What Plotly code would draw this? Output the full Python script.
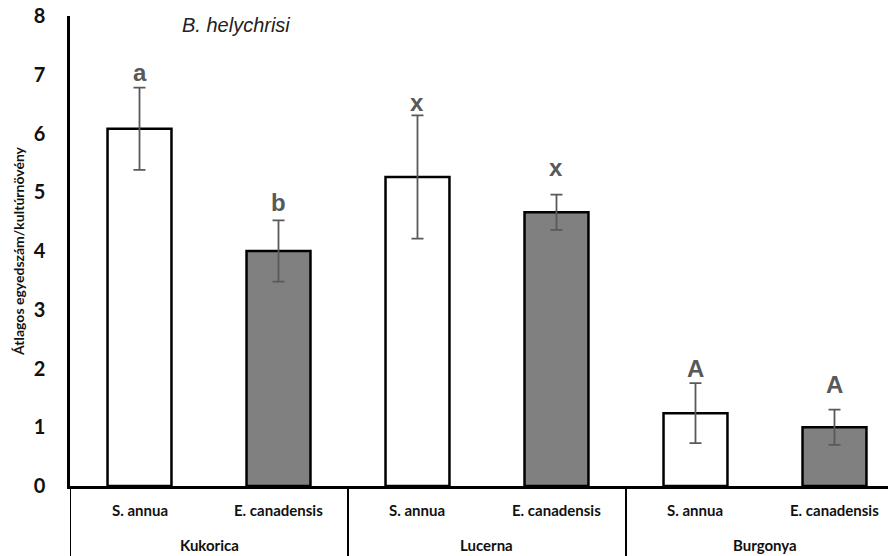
import plotly.graph_objects as go

groups = ["Kukorica", "Lucerna", "Burgonya"]
species = ["S. annua", "E. canadensis"]
means = [6.08, 4.00, 5.26, 4.66, 1.24, 1.00]
errs = [0.70, 0.52, 1.05, 0.30, 0.51, 0.30]
letters = ["a", "b", "x", "x", "A", "A"]
letter_y = [7.01, 4.80, 6.49, 5.38, 1.97, 1.70]
fills = ["#ffffff", "#808080"] * 3

n_sp = len(species)
xpos = list(range(len(means)))
sp_labels = [species[i % n_sp] for i in xpos]

fig = go.Figure()
fig.add_trace(go.Bar(
    x=xpos, y=means,
    marker=dict(color=fills, line=dict(color="#000000", width=2.5)),
    width=0.46,
    error_y=dict(type="data", array=errs, visible=True, color="#595959",
                 thickness=1.8, width=6),
    showlegend=False,
))

label_font = dict(family="Lato, Open Sans", size=15, color="#111", weight="bold")

for i, (ly, lt) in enumerate(zip(letter_y, letters)):
    fig.add_annotation(x=i, y=ly, text=f"<b>{lt}</b>",
                       showarrow=False, yanchor="middle", yshift=2,
                       font=dict(family="Liberation Sans, Arial", size=24, color="#595959"),
                       xref="x", yref="y")

for i, s in zip(xpos, sp_labels):
    fig.add_annotation(x=i, y=0, xref="x", yref="paper", text=s, showarrow=False,
                       yanchor="middle", yshift=-24, font=label_font)

for gi, g in enumerate(groups):
    fig.add_annotation(x=gi * n_sp + (n_sp - 1) / 2, y=0, xref="x", yref="paper", text=g,
                       showarrow=False, yanchor="middle", yshift=-59, font=label_font)
    fig.add_shape(type="line", xref="x", yref="paper", x0=gi * n_sp - 0.5, x1=gi * n_sp - 0.5,
                  y0=0, y1=-75 / 470, line=dict(color="#000000", width=2))

fig.add_annotation(text="<i>B. helychrisi</i>", xref="paper", yref="paper",
                   x=(180 - 70) / 818, y=1 - 9 / 470, xanchor="left", yanchor="middle",
                   showarrow=False,
                   font=dict(family="Liberation Sans, Arial", size=20, color="#222"))

fig.update_layout(
    width=888, height=556,
    margin=dict(l=70, r=0, t=16, b=70),
    plot_bgcolor="white", paper_bgcolor="white",
    xaxis=dict(range=[-0.5, 5.385], showline=True, linecolor="#000000", linewidth=2.5,
               showgrid=False, ticks="", showticklabels=False, zeroline=False),
    yaxis=dict(range=[0, 8], dtick=1, showline=True, linecolor="#000000", linewidth=2.5,
               showgrid=False, ticks="", zeroline=False,
               tickfont=dict(family="Lato, Open Sans", size=20, color="#111", weight="bold"),
               ticklabelstandoff=18,
               title=dict(text="Átlagos egyedszám/kultúrnövény", standoff=6,
                          font=dict(family="Lato, Open Sans", size=14, color="#111",
                                    weight="bold"))),
)

fig.write_html("out.html")
